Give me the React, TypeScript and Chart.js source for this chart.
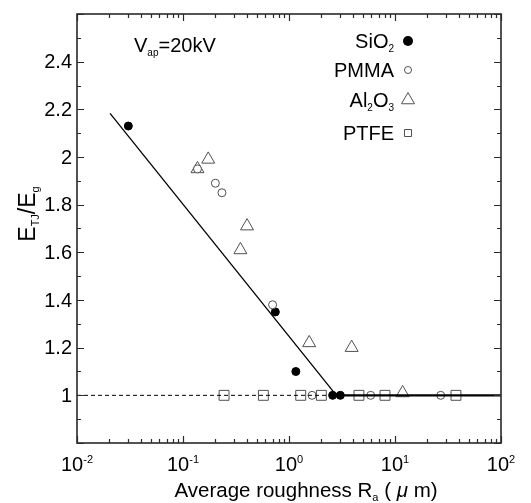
import React, { useEffect, useRef } from 'react';
import { Chart, registerables } from 'chart.js';

Chart.register(...registerables);

// ---- data ----
const sio2X = [0.0305, 0.743, 1.16, 2.58, 3.05];
const sio2Y = [2.13, 1.35, 1.1, 1.0, 1.0];
const pmmaX = [0.137, 0.202, 0.233, 0.7, 1.65, 5.9, 27];
const pmmaY = [1.95, 1.89, 1.85, 1.38, 1.0, 1.0, 1.0];
const al2o3X = [0.137, 0.173, 0.348, 0.402, 1.55, 3.9, 11.8];
const al2o3Y = [1.95, 1.99, 1.61, 1.71, 1.22, 1.2, 1.01];
const ptfeX = [0.244, 0.573, 1.29, 2.02, 4.57, 8.05, 37.6];
const ptfeY = [1, 1, 1, 1, 1, 1, 1];
const fitX = [0.0205, 2.8];
const fitY = [2.183, 1.0];
const plateauX = [2.8, 100];
const plateauY = [1, 1];
const refX = [0.01, 2.8];
const refY = [1, 1];
const yTickLabels = [1, 1.2, 1.4, 1.6, 1.8, 2, 2.2, 2.4];
const xTickExps = [-2, -1, 0, 1, 2];
const xMin = 0.01;
const xMax = 100;
const yMin = 0.8;
const yMax = 2.6;

const FONT = "'Liberation Sans', Arial, Helvetica, sans-serif";
const GRAY = '#505050';

const pts = (xs: number[], ys: number[]) => xs.map((x, i) => ({ x, y: ys[i] }));

type Part = { t: string; s?: 'sub' | 'sup'; it?: boolean };

function richWidth(ctx: CanvasRenderingContext2D, parts: Part[], size: number, small: number) {
  let w = 0;
  for (const p of parts) {
    ctx.font = `${p.it ? 'italic ' : ''}${p.s ? small : size}px ${FONT}`;
    w += ctx.measureText(p.t).width;
  }
  return w;
}

function drawRich(
  ctx: CanvasRenderingContext2D,
  parts: Part[],
  x: number,
  y: number,
  align: 'left' | 'center' | 'right',
  size: number,
  small: number,
  subOff: number,
  supOff: number
) {
  const w = richWidth(ctx, parts, size, small);
  let cx = align === 'left' ? x : align === 'center' ? x - w / 2 : x - w;
  ctx.textAlign = 'left';
  ctx.textBaseline = 'alphabetic';
  for (const p of parts) {
    ctx.font = `${p.it ? 'italic ' : ''}${p.s ? small : size}px ${FONT}`;
    const dy = p.s === 'sub' ? subOff : p.s === 'sup' ? -supOff : 0;
    ctx.fillText(p.t, cx, y + dy);
    cx += ctx.measureText(p.t).width;
  }
}

function marker(ctx: CanvasRenderingContext2D, kind: string, x: number, y: number, r: number) {
  ctx.save();
  ctx.lineWidth = 1;
  ctx.beginPath();
  if (kind === 'filled') {
    ctx.fillStyle = '#000';
    ctx.arc(x, y, r, 0, Math.PI * 2);
    ctx.fill();
  } else if (kind === 'circle') {
    ctx.strokeStyle = GRAY;
    ctx.arc(x, y, r, 0, Math.PI * 2);
    ctx.stroke();
  } else if (kind === 'triangle') {
    ctx.strokeStyle = GRAY;
    const h = r * 1.5;
    ctx.moveTo(x - r * 0.866, y + h / 3);
    ctx.lineTo(x + r * 0.866, y + h / 3);
    ctx.lineTo(x, y - (2 * h) / 3);
    ctx.closePath();
    ctx.stroke();
  } else {
    ctx.strokeStyle = GRAY;
    ctx.rect(x - r, y - r, 2 * r, 2 * r);
    ctx.stroke();
  }
  ctx.restore();
}

const decorPlugin = {
  id: 'decor',
  afterDraw(chart: any) {
    const ctx: CanvasRenderingContext2D = chart.ctx;
    const xs = chart.scales.x;
    const ys = chart.scales.y;
    const { left, right, top, bottom } = chart.chartArea;
    ctx.save();

    // frame
    ctx.strokeStyle = '#2a2a2a';
    ctx.lineWidth = 1.6;
    ctx.strokeRect(left, top, right - left, bottom - top);

    // y ticks
    ctx.lineWidth = 1.2;
    ctx.beginPath();
    for (let i = 0; i <= Math.round((yMax - yMin) / 0.1); i++) {
      const v = yMin + i * 0.1;
      const py = Math.round(ys.getPixelForValue(v)) + 0.5;
      const major = i % 2 === 0;
      const len = major ? 7 : 4;
      ctx.moveTo(left, py);
      ctx.lineTo(left + len, py);
      ctx.moveTo(right, py);
      ctx.lineTo(right - len, py);
    }
    // x ticks
    for (let e = -2; e <= 2; e++) {
      for (let m = 1; m <= 9; m++) {
        const v = m * Math.pow(10, e);
        if (v > xMax + 1e-9) break;
        const px = Math.round(xs.getPixelForValue(v)) + 0.5;
        const len = m === 1 ? 7 : 4;
        ctx.moveTo(px, bottom);
        ctx.lineTo(px, bottom - len);
        ctx.moveTo(px, top);
        ctx.lineTo(px, top + len);
      }
    }
    ctx.stroke();

    ctx.fillStyle = '#000';
    // y tick labels
    ctx.font = `20px ${FONT}`;
    ctx.textAlign = 'right';
    ctx.textBaseline = 'middle';
    for (const v of yTickLabels) {
      ctx.fillText(String(v), left - 5, ys.getPixelForValue(v) + 1);
    }
    // x tick labels
    for (const e of xTickExps) {
      drawRich(ctx, [{ t: '10' }, { t: String(e), s: 'sup' }], xs.getPixelForValue(Math.pow(10, e)), bottom + 28, 'center', 20, 11, 0, 8);
    }
    // x title
    drawRich(
      ctx,
      [{ t: 'Average roughness R' }, { t: 'a', s: 'sub' }, { t: ' ( ' }, { t: 'μ', it: true }, { t: ' m)' }],
      306,
      bottom + 54,
      'center',
      20.5,
      11,
      4,
      0
    );
    // y title (rotated)
    ctx.save();
    ctx.translate(35, 214);
    ctx.rotate(-Math.PI / 2);
    drawRich(ctx, [{ t: 'E' }, { t: 'TJ', s: 'sub' }, { t: '/E' }, { t: 'g', s: 'sub' }], 0, 0, 'center', 23, 11, 4, 0);
    ctx.restore();

    // annotation
    drawRich(ctx, [{ t: 'V' }, { t: 'ap', s: 'sub' }, { t: '=20kV' }], 134, 52, 'left', 20, 10, 4, 0);

    // legend
    const rows: { parts: Part[]; kind: string; y: number; r: number }[] = [
      { parts: [{ t: 'SiO' }, { t: '2', s: 'sub' }], kind: 'filled', y: 41, r: 5 },
      { parts: [{ t: 'PMMA' }], kind: 'circle', y: 70, r: 3.5 },
      { parts: [{ t: 'Al' }, { t: '2', s: 'sub' }, { t: 'O' }, { t: '3', s: 'sub' }], kind: 'triangle', y: 100, r: 7.5 },
      { parts: [{ t: 'PTFE' }], kind: 'square', y: 133, r: 3.5 },
    ];
    for (const row of rows) {
      ctx.fillStyle = '#000';
      drawRich(ctx, row.parts, 394, row.y + 7, 'right', 20, 10, 4, 0);
      marker(ctx, row.kind, 408, row.y, row.r);
    }
    ctx.restore();
  },
};

export default function App() {
  const ref = useRef<HTMLCanvasElement>(null);
  useEffect(() => {
    if (!ref.current) return;
    const chart = new Chart(ref.current, {
      type: 'scatter',
      data: {
        datasets: [
          {
            label: 'ref',
            data: pts(refX, refY),
            showLine: true,
            borderColor: '#000',
            borderWidth: 1,
            borderDash: [4, 3],
            pointRadius: 0,
          },
          {
            label: 'fit',
            data: pts(fitX, fitY),
            showLine: true,
            borderColor: '#000',
            borderWidth: 1.3,
            pointRadius: 0,
          },
          {
            label: 'plateau',
            data: pts(plateauX, plateauY),
            showLine: true,
            borderColor: '#000',
            borderWidth: 2.3,
            pointRadius: 0,
          },
          {
            label: 'PTFE',
            data: pts(ptfeX, ptfeY),
            pointStyle: 'rect',
            pointRadius: 7,
            backgroundColor: '#fff',
            borderColor: GRAY,
            borderWidth: 1,
          },
          {
            label: 'PMMA',
            data: pts(pmmaX, pmmaY),
            pointStyle: 'circle',
            pointRadius: 4,
            backgroundColor: '#fff',
            borderColor: GRAY,
            borderWidth: 1,
          },
          {
            label: 'Al2O3',
            data: pts(al2o3X, al2o3Y),
            pointStyle: 'triangle',
            pointRadius: 7.5,
            backgroundColor: 'rgba(255,255,255,0)',
            borderColor: GRAY,
            borderWidth: 1,
          },
          {
            label: 'SiO2',
            data: pts(sio2X, sio2Y),
            pointStyle: 'circle',
            pointRadius: 4,
            backgroundColor: '#000',
            borderColor: '#000',
            borderWidth: 1,
          },
        ],
      },
      options: {
        responsive: false,
        animation: false,
        events: [],
        layout: { padding: { left: 77, top: 14, right: 30, bottom: 60 } },
        plugins: { legend: { display: false }, tooltip: { enabled: false } },
        scales: {
          x: { type: 'logarithmic', min: xMin, max: xMax, display: false },
          y: { type: 'linear', min: yMin, max: yMax, display: false },
        },
      },
      plugins: [decorPlugin],
    });
    return () => chart.destroy();
  }, []);
  return (
    <div style={{ position: 'fixed', left: 0, top: 0, width: 531, height: 503, background: '#fff' }}>
      <canvas ref={ref} width={531} height={503} style={{ display: 'block' }} />
    </div>
  );
}
